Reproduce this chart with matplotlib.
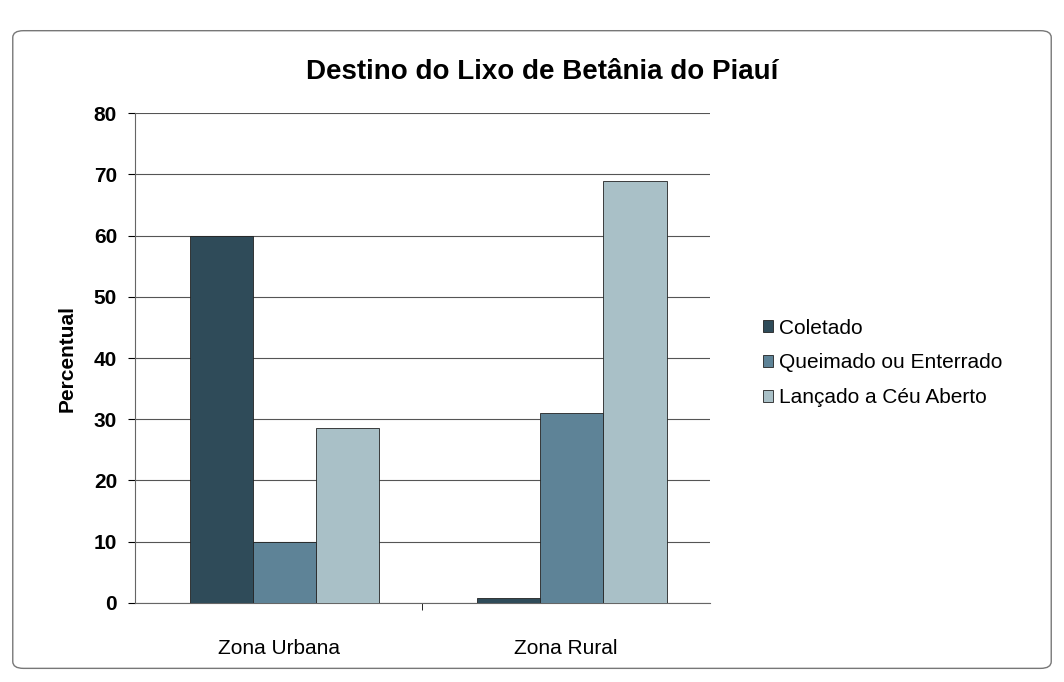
import matplotlib

matplotlib.use("Agg")
import matplotlib.pyplot as plt
import numpy as np
from matplotlib.patches import FancyBboxPatch

categories = ["Zona Urbana", "Zona Rural"]
series_names = ["Coletado", "Queimado ou Enterrado", "Lançado a Céu Aberto"]
coletado = [60, 0.8]
queimado = [10, 31]
lancado = [28.5, 69]
y_ticks = [0, 10, 20, 30, 40, 50, 60, 70, 80]

colors = ["#2f4b59", "#5e8397", "#a9c0c7"]

plt.rcParams["font.family"] = ["Liberation Sans", "DejaVu Sans"]


def main() -> None:
    fig = plt.figure(figsize=(10.64, 6.82), dpi=100)
    fig.patch.set_facecolor("white")
    border = FancyBboxPatch(
        (0.012, 0.02), 0.976, 0.935,
        boxstyle="round,pad=0,rounding_size=0.01",
        transform=fig.transFigure, fill=False, edgecolor="#777777", linewidth=1.0,
    )
    fig.add_artist(border)

    ax = fig.add_axes([0.127, 0.116, 0.54, 0.718])
    x = np.arange(len(categories))
    width = 0.22
    for i, (vals, name) in enumerate(zip([coletado, queimado, lancado], series_names)):
        ax.bar(x + (i - 1) * width + 0.02, vals, width, color=colors[i], edgecolor="#222222",
               linewidth=0.6, label=name, zorder=3)

    ax.set_xlim(-0.5, 1.5)
    ax.set_ylim(0, 80)
    ax.set_yticks(y_ticks)
    ax.set_yticklabels([str(t) for t in y_ticks], fontsize=15, fontweight="bold")
    ax.set_xticks(x)
    ax.set_xticklabels(categories, fontsize=15)
    ax.tick_params(axis="x", length=0, pad=26)
    ax.tick_params(axis="y", length=5, direction="out", pad=8)
    ax.set_xticks([0.5], minor=True)
    ax.tick_params(axis="x", which="minor", length=5, direction="out")
    ax.yaxis.grid(True, color="#555555", linewidth=0.8, zorder=0)
    for side in ["top", "right"]:
        ax.spines[side].set_visible(False)
    ax.spines["left"].set_color("#666666")
    ax.spines["bottom"].set_color("#666666")
    ax.set_ylabel("Percentual", fontsize=15, fontweight="bold", labelpad=12)

    fig.text(0.51, 0.895, "Destino do Lixo de Betânia do Piauí", ha="center", va="center",
             fontsize=20, fontweight="bold")

    ax.legend(loc="center left", bbox_to_anchor=(1.06, 0.49), frameon=False, fontsize=15,
              handlelength=0.5, handleheight=0.5, handletextpad=0.25, labelspacing=0.75)

    fig.savefig("out.png", dpi=100)
    plt.close(fig)


if __name__ == "__main__":
    main()
